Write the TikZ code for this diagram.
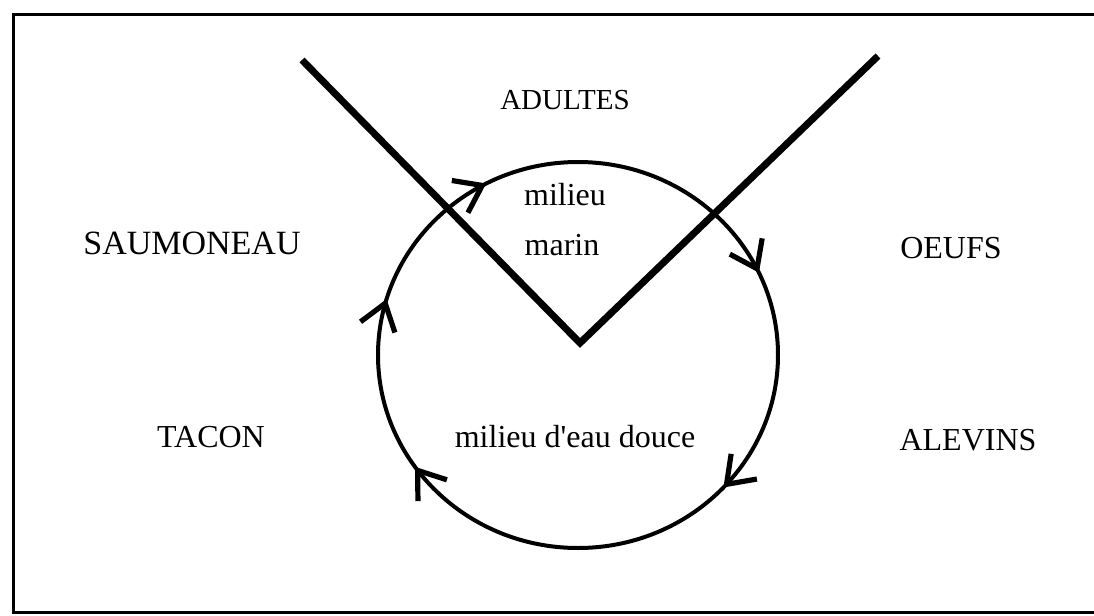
\documentclass[tikz,border=0pt]{standalone}
\usepackage{fontspec}
\setmainfont{Liberation Serif}
\usetikzlibrary{arrows.meta,decorations.markings}
\tikzset{
  frame/.style={line width=1.5pt},
  vee/.style={line width=3.5pt, line join=miter},
  label/.style={font=\fontsize{16}{19}\selectfont, inner sep=0pt},
  barb/.tip={Straight Barb[length=12.5pt,width=18pt,line width=2.6pt]},
  cycle/.style={line width=2pt,
    postaction={decorate},
    decoration={markings,
      mark=at position 0.119 with {\arrow{barb}},
      mark=at position 0.403 with {\arrow{barb}},
      mark=at position 0.546 with {\arrow{barb}},
      mark=at position 0.673 with {\arrow{barb}},
      mark=at position 0.931 with {\arrow{barb}}}}
}
\begin{document}
\begin{tikzpicture}[x=0.5pt,y=-0.5pt]
\useasboundingbox (0,0) rectangle (1094,616);
% open frame
\coordinate (ftr) at (1094,14);
\coordinate (ftl) at (13,14);
\coordinate (fbl) at (13,612);
\coordinate (fbr) at (1094,612);
\draw[frame] (ftr) -- (ftl) -- (fbl) -- (fbr);
% life cycle circle
\coordinate (c) at (578,355);
\draw[cycle] (778,355) arc[start angle=0,end angle=360,x radius=200,y radius=193];
% the V dividing marine and fresh water
\coordinate (vl) at (302,60);
\coordinate (vb) at (580,343);
\coordinate (vr) at (878,56);
\draw[vee] (vl) -- (vb) -- (vr);
% stages
\node[label, font=\fontsize{14.5}{17}\selectfont] (adultes) at (565,100) {ADULTES};
\node[label] (oeufs) at (951,248) {OEUFS};
\node[label] (alevins) at (968,440) {ALEVINS};
\node[label] (tacon) at (211,437) {TACON};
\node[label, font=\fontsize{17}{20}\selectfont] (saumoneau) at (192,243) {SAUMONEAU};
% environments
\node[label] (milieu) at (565,195) {milieu};
\node[label] (marin) at (562,245) {marin};
\node[label] (douce) at (575,437) {milieu d\textquotesingle eau douce};
\end{tikzpicture}
\end{document}
